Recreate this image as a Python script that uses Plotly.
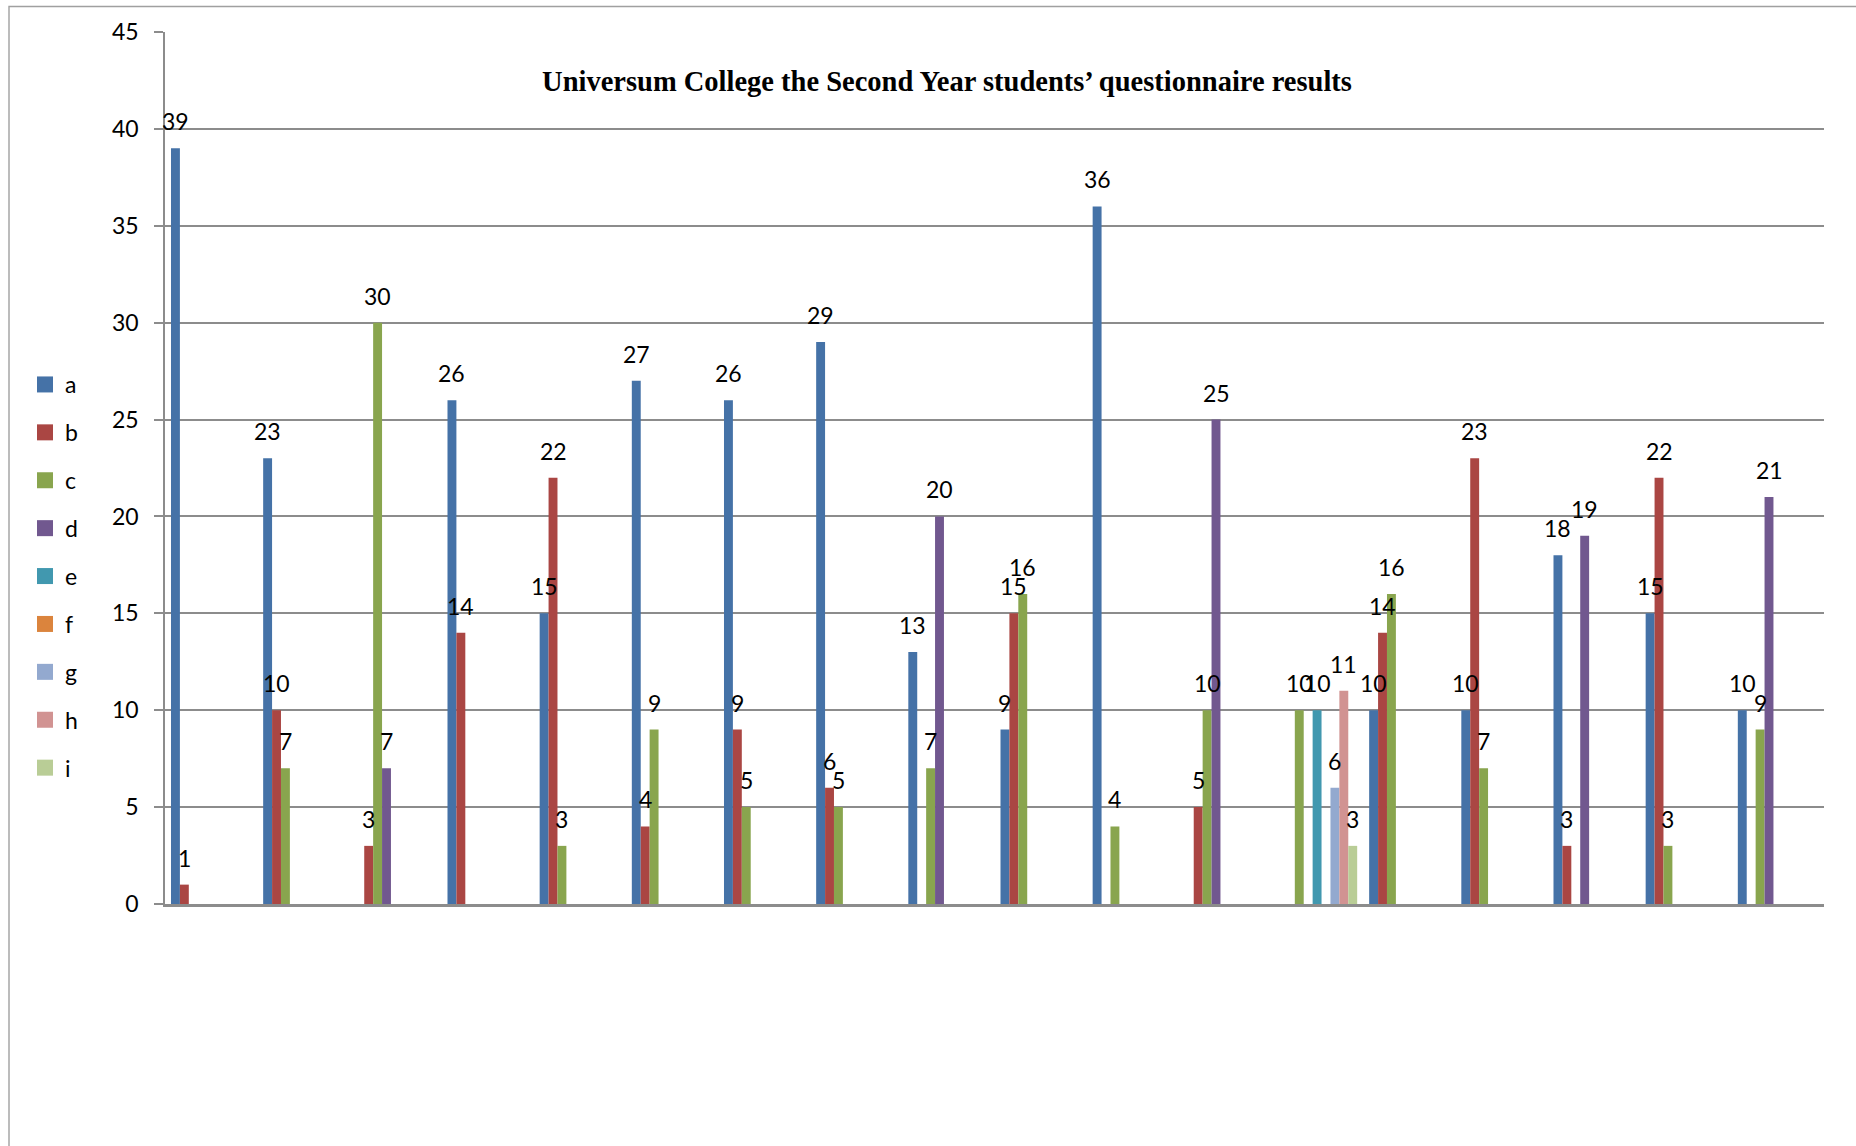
import plotly.graph_objects as go

# Question groups along the horizontal axis (not labelled on the chart)
questions = [f"Q{n}" for n in range(1, 19)]

# Answer counts per option, one list per answer option (None = no answers)
a = [39, 23, None, 26, 15, 27, 26, 29, 13, 9, 36, None, None, 10, 10, 18, 15, 10]
b = [1, 10, 3, 14, 22, 4, 9, 6, None, 15, None, 5, None, 14, 23, 3, 22, None]
c = [None, 7, 30, None, 3, 9, 5, 5, 7, 16, 4, 10, 10, 16, 7, None, 3, 9]
d = [None, None, 7, None, None, None, None, None, 20, None, None, 25, None, None, None, 19, None, 21]
e = [None] * 12 + [10] + [None] * 5
f = [None] * 18
g = [None] * 12 + [6] + [None] * 5
h = [None] * 12 + [11] + [None] * 5
i = [None] * 12 + [3] + [None] * 5

option_names = ["a", "b", "c", "d", "e", "f", "g", "h", "i"]
option_values = [a, b, c, d, e, f, g, h, i]
option_colors = ["#4572A7", "#AA4643", "#89A54E", "#71588F", "#4198AF",
                 "#DB843D", "#93A9CF", "#D19392", "#B9CD96"]

title_text = "Universum College the Second Year students\u2019 questionnaire results"

W, H = 1856, 1146
ML, MR, MT, MB = 165, 32, 32, 242
BARGAP = 0.13
TEXT_FONT = dict(family="Lato", size=23, color="black")

fig = go.Figure()
for name, vals, col in zip(option_names, option_values, option_colors):
    fig.add_bar(x=questions, y=vals, name=name, legendgroup=name,
                showlegend=False, marker=dict(color=col, line=dict(width=0)))

# legend keys: one filled square per answer option
for name, col in zip(option_names, option_colors):
    fig.add_scatter(x=[None], y=[None], mode="markers", name=name,
                    legendgroup=name, showlegend=True,
                    marker=dict(symbol="square", size=16, color=col))

# value labels centred above each bar of the grouped layout
n_opt = len(option_names)
span = 1 - BARGAP
for j, vals in enumerate(option_values):
    offset = -span / 2 + (j + 0.5) * span / n_opt
    for k, v in enumerate(vals):
        if v is None:
            continue
        fig.add_annotation(x=k + offset, y=v, xref="x", yref="y", text=str(v),
                           showarrow=False, xanchor="center", yanchor="bottom",
                           yshift=11, font=TEXT_FONT)

plot_w = W - ML - MR
plot_h = H - MT - MB
# outer chart frame, running past the right and bottom edges
fig.add_shape(type="rect", xref="paper", yref="paper",
              x0=(9 - ML) / plot_w, x1=1.2,
              y0=-0.5, y1=(H - MB - 6.5) / plot_h,
              line=dict(color="#a0a0a0", width=1.4), layer="below")

fig.update_layout(
    width=W, height=H,
    margin=dict(l=ML, r=MR, t=MT, b=MB, pad=0),
    paper_bgcolor="white", plot_bgcolor="white",
    barmode="group", bargap=BARGAP, bargroupgap=0,
    title=dict(text=title_text, xref="container", yref="container",
               x=947 / W, xanchor="center", y=1 - 81 / H, yanchor="middle",
               font=dict(family="Liberation Serif", size=28.5, color="black",
                         weight="bold")),
    legend=dict(xref="container", yref="container", x=25 / W, xanchor="left",
                y=1 - 363 / H, yanchor="top", tracegroupgap=15,
                font=TEXT_FONT, itemsizing="trace",
                bgcolor="rgba(0,0,0,0)", borderwidth=0),
    xaxis=dict(range=[-0.5, 17.5], showticklabels=False, showgrid=False,
               showline=True, linecolor="#8c8c8c", linewidth=3, ticks="",
               zeroline=False),
    yaxis=dict(range=[0, 45], dtick=5, tick0=0, showgrid=True,
               gridcolor="#8c8c8c", gridwidth=2, showline=True,
               linecolor="#8c8c8c", linewidth=1.5, ticks="outside",
               ticklen=9, tickcolor="#8c8c8c", tickwidth=1.5,
               ticklabelstandoff=11, zeroline=False,
               tickfont=TEXT_FONT),
    showlegend=True,
)

fig.write_html("out.html")
